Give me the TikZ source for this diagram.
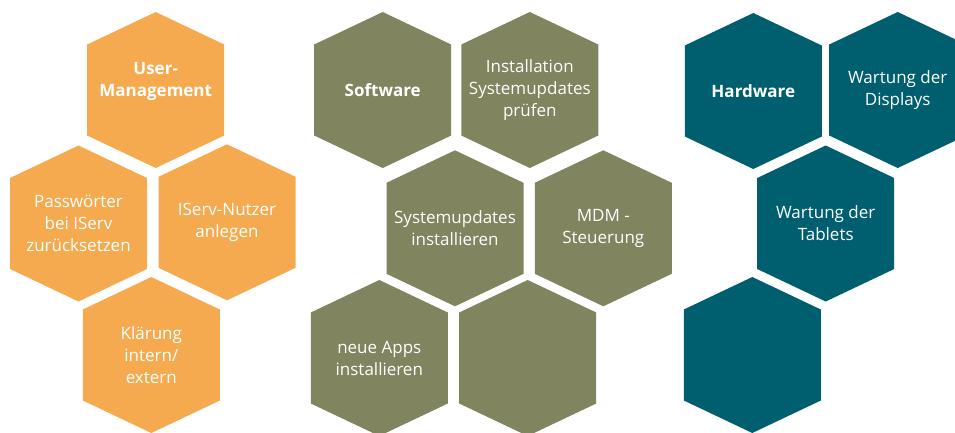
\documentclass[tikz,border=0pt]{standalone}
\usepackage{fontspec}
\setmainfont{Open Sans}

\definecolor{userorange}{HTML}{F5AA50}
\definecolor{softolive}{HTML}{80845F}
\definecolor{hardteal}{HTML}{005F6F}

\tikzset{
  hexcell/.style={minimum width=137pt, minimum height=156pt, inner sep=0pt,
    align=center, text=white, font=\fontsize{17}{22}\selectfont,
    path picture={\fill[#1] (path picture bounding box.north)
      -- ([yshift=-32.5pt]path picture bounding box.north east)
      -- ([yshift=32.5pt]path picture bounding box.south east)
      -- (path picture bounding box.south)
      -- ([yshift=32.5pt]path picture bounding box.south west)
      -- ([yshift=-32.5pt]path picture bounding box.north west) -- cycle;}},
  headcell/.style={hexcell=#1, font=\fontsize{17}{22}\selectfont\bfseries},
}

\begin{document}
\begin{tikzpicture}[x=1pt, y=-1pt]
  \useasboundingbox (0,0) rectangle (955,432);

  \node[headcell=userorange] (UM) at (155.7,90) {\raisebox{9pt}[\height][\depth]{\begin{tabular}{@{}c@{}}User-\\Management\end{tabular}}};
  \node[hexcell=userorange] (PW) at (78.5,223.5) {Passwörter\\bei IServ\\zurücksetzen};
  \node[hexcell=userorange] (IS) at (227,222.3) {IServ-Nutzer\\anlegen};
  \node[hexcell=userorange] (KL) at (151.3,355) {Klärung\\intern/\\extern};

  \node[headcell=softolive] (SW) at (382.7,90) {Software};
  \node[hexcell=softolive] (IN) at (529.8,90) {Installation\\Systemupdates\\prüfen};
  \node[hexcell=softolive] (SU) at (455,228.3) {Systemupdates\\installieren};
  \node[hexcell=softolive] (MD) at (603.3,228.3) {MDM -\\Steuerung};
  \node[hexcell=softolive] (NA) at (379.3,358) {neue Apps\\installieren};
  \node[hexcell=softolive] (SE) at (527.7,358) {};

  \node[headcell=hardteal] (HW) at (753.3,91) {Hardware};
  \node[hexcell=hardteal] (DI) at (897.7,90) {Wartung der\\Displays};
  \node[hexcell=hardteal] (TA) at (825.7,223.5) {Wartung der\\Tablets};
  \node[hexcell=hardteal] (HE) at (752.3,355) {};
\end{tikzpicture}
\end{document}
